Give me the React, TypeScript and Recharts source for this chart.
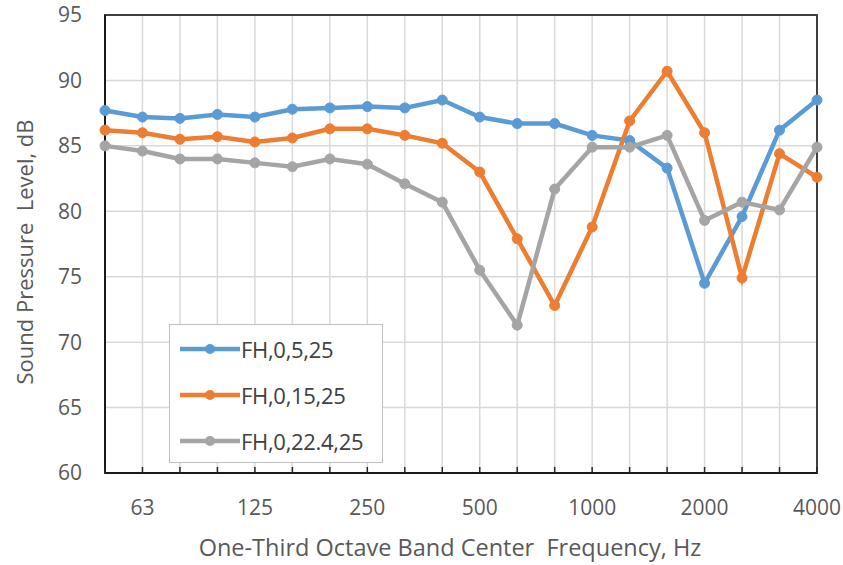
import React from 'react';
import {
  LineChart,
  Line,
  XAxis,
  YAxis,
  CartesianGrid,
  Legend,
  ReferenceArea,
} from 'recharts';

const bands = ['50', '63', '80', '100', '125', '160', '200', '250', '315', '400', '500', '630', '800', '1000', '1250', '1600', '2000', '2500', '3150', '4000'];
const labeledBands = ['63', '125', '250', '500', '1000', '2000', '4000'];
const yTicks = [60, 65, 70, 75, 80, 85, 90, 95];

const fh5 = [87.7, 87.2, 87.1, 87.4, 87.2, 87.8, 87.9, 88.0, 87.9, 88.5, 87.2, 86.7, 86.7, 85.8, 85.4, 83.3, 74.5, 79.6, 86.2, 88.5];
const fh15 = [86.2, 86.0, 85.5, 85.7, 85.3, 85.6, 86.3, 86.3, 85.8, 85.2, 83.0, 77.9, 72.8, 78.8, 86.9, 90.7, 86.0, 74.9, 84.4, 82.6];
const fh224 = [85.0, 84.6, 84.0, 84.0, 83.7, 83.4, 84.0, 83.6, 82.1, 80.7, 75.5, 71.3, 81.7, 84.9, 84.9, 85.8, 79.3, 80.7, 80.1, 84.9];

const series = [
  { key: 'fh5', name: 'FH,0,5,25', color: '#5B9BD5' },
  { key: 'fh15', name: 'FH,0,15,25', color: '#ED7D31' },
  { key: 'fh224', name: 'FH,0,22.4,25', color: '#A5A5A5' },
];

const data = bands.map((band, i) => ({
  band,
  fh5: fh5[i],
  fh15: fh15[i],
  fh224: fh224[i],
}));

const textColor = '#595959';
const font = '"Open Sans", Lato, sans-serif';

function BandTick({ x, y, payload }: { x?: number; y?: number; payload?: { value: string } }) {
  if (x == null || y == null || !payload) return null;
  const show = labeledBands.includes(payload.value);
  return (
    <g>
      <line x1={x} x2={x} y1={y} y2={y - 6} stroke="#262626" strokeWidth={1.5} />
      {show && (
        <text x={x} y={y + 42} textAnchor="middle" fill={textColor} fontSize={21} fontFamily={font}>
          {payload.value}
        </text>
      )}
    </g>
  );
}

function YTitle({ viewBox }: { viewBox?: { x: number; y: number; width: number; height: number } }) {
  if (!viewBox) return null;
  const cx = 24;
  const cy = viewBox.y + viewBox.height / 2 + 8;
  return (
    <text
      x={cx}
      y={cy}
      transform={`rotate(-90, ${cx}, ${cy})`}
      textAnchor="middle"
      dominantBaseline="central"
      fill={textColor}
      fontSize={22}
      fontFamily={font}
      style={{ whiteSpace: 'pre' }}
    >
      Sound Pressure  Level, dB
    </text>
  );
}

function XTitle({ viewBox }: { viewBox?: { x: number; y: number; width: number; height: number } }) {
  if (!viewBox) return null;
  return (
    <text
      x={viewBox.x + viewBox.width / 2 - 11}
      y={viewBox.y + viewBox.height - 9}
      textAnchor="middle"
      fill={textColor}
      fontSize={23.5}
      fontFamily={font}
      style={{ whiteSpace: 'pre' }}
    >
      One-Third Octave Band Center  Frequency, Hz
    </text>
  );
}

function LegendBox() {
  return (
    <div
      style={{
        width: 214,
        height: 139,
        boxSizing: 'border-box',
        border: '1.5px solid #bfbfbf',
        background: '#fff',
        paddingTop: 1,
        fontFamily: font,
      }}
    >
      {series.map((s) => (
        <div key={s.key} style={{ display: 'flex', alignItems: 'center', height: 46 }}>
          <svg width={72} height={14} style={{ marginLeft: 10 }}>
            <line x1={0} x2={60} y1={7} y2={7} stroke={s.color} strokeWidth={4.5} />
            <circle cx={30} cy={7} r={5} fill={s.color} />
          </svg>
          <span style={{ color: '#404040', fontSize: 22, marginLeft: -11, letterSpacing: -0.3 }}>{s.name}</span>
        </div>
      ))}
    </div>
  );
}

export default function App() {
  return (
    <div style={{ position: 'absolute', left: 0, top: 0, background: '#fff' }}>
      <LineChart width={843} height={565} data={data} margin={{ top: 15, right: 26, bottom: 0, left: 0 }}>
        <CartesianGrid stroke="#d9d9d9" strokeWidth={1.5} />
        <XAxis
          dataKey="band"
          interval={0}
          height={92}
          tickSize={0}
          tickMargin={0}
          tickLine={false}
          axisLine={{ stroke: '#1a1a1a', strokeWidth: 2 }}
          tick={<BandTick />}
          label={<XTitle />}
        />
        <YAxis
          domain={[60, 95]}
          ticks={yTicks}
          interval={0}
          width={105}
          tickSize={0}
          tickMargin={23}
          tickLine={false}
          axisLine={{ stroke: '#1a1a1a', strokeWidth: 2 }}
          tick={{ fill: textColor, fontSize: 21, fontFamily: font }}
          label={<YTitle />}
        />
        <ReferenceArea y1={60} y2={95} fill="none" fillOpacity={0} stroke="#404040" strokeWidth={2} />
        {series.map((s) => (
          <Line
            key={s.key}
            type="linear"
            dataKey={s.key}
            name={s.name}
            stroke={s.color}
            strokeWidth={4.5}
            dot={{ r: 5, fill: s.color, stroke: s.color, strokeWidth: 1 }}
            activeDot={false}
            isAnimationActive={false}
          />
        ))}
        <Legend
          layout="vertical"
          align="center"
          verticalAlign="middle"
          wrapperStyle={{ left: 169, top: 324, width: 214, height: 139 }}
          content={<LegendBox />}
        />
      </LineChart>
    </div>
  );
}
